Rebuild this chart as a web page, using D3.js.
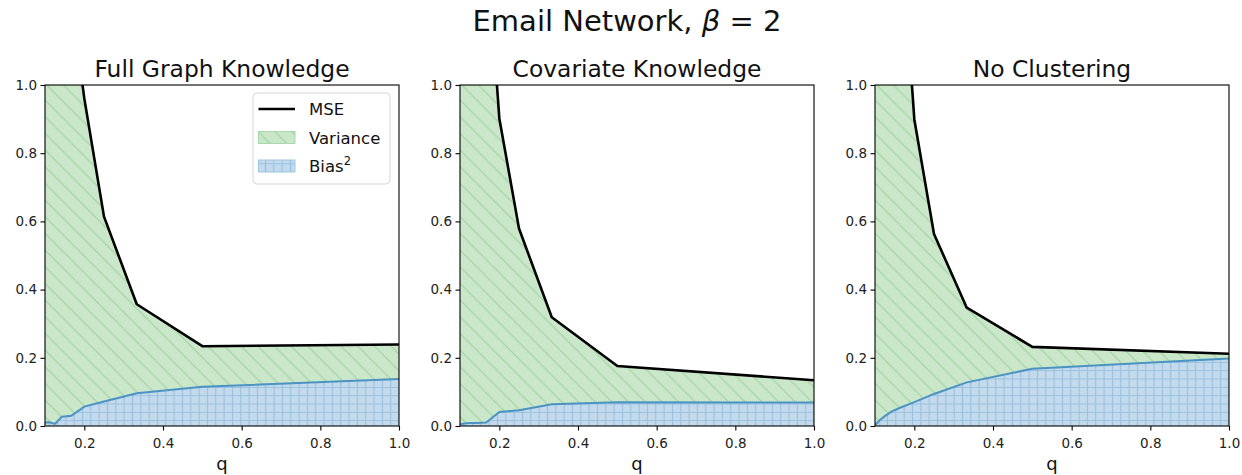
<!DOCTYPE html>
<html>
<head>
<meta charset="utf-8">
<script src="https://cdn.jsdelivr.net/npm/d3@7"></script>
<style>
  html, body { margin: 0; padding: 0; background: #fff; }
  svg { display: block; font-family: "DejaVu Sans", sans-serif; }
</style>
</head>
<body>
<svg id="chart" width="1242" height="475"></svg>
<script>
// Sampling rates q = 1/k, k = 10 .. 1
const qValues = [0.1, 0.1111, 0.125, 0.1429, 0.1667, 0.2, 0.25, 0.3333, 0.5, 1.0];

// Full Graph Knowledge
const mseFull  = [2.9, 2.5, 2.1, 1.7, 1.25, 0.96, 0.614, 0.357, 0.234, 0.239];
const biasFull = [0.010, 0.011, 0.006, 0.027, 0.030, 0.057, 0.072, 0.096, 0.115, 0.138];

// Covariate Knowledge
const mseCov  = [3.0, 2.6, 2.2, 1.8, 1.44, 0.902, 0.579, 0.319, 0.176, 0.134];
const biasCov = [0.005, 0.007, 0.009, 0.009, 0.010, 0.041, 0.046, 0.064, 0.070, 0.069];

// No Clustering
const mseNone  = [3.0, 2.6, 2.2, 1.8, 1.45, 0.899, 0.563, 0.347, 0.232, 0.212];
const biasNone = [0.002, 0.016, 0.029, 0.043, 0.055, 0.070, 0.094, 0.128, 0.168, 0.198];

const panelTitles = ["Full Graph Knowledge", "Covariate Knowledge", "No Clustering"];
const xTicks = [0.2, 0.4, 0.6, 0.8, 1.0];
const yTicks = [0.0, 0.2, 0.4, 0.6, 0.8, 1.0];
const legendLabels = ["MSE", "Variance", "Bias"];

const panels = [
  { title: panelTitles[0], mse: mseFull, bias: biasFull },
  { title: panelTitles[1], mse: mseCov,  bias: biasCov },
  { title: panelTitles[2], mse: mseNone, bias: biasNone }
];

const svg = d3.select("#chart");
const defs = svg.append("defs");

const greenFill = "rgb(202,231,202)";
const greenHatch = "rgb(160,211,160)";
const blueFill = "rgb(195,218,236)";
const blueHatch = "rgb(152,192,222)";

// Variance hatch: single backslash diagonals
const hw = 16.67;
const vp = defs.append("pattern").attr("id", "hatchVar")
  .attr("patternUnits", "userSpaceOnUse").attr("width", hw).attr("height", hw);
vp.append("rect").attr("width", hw).attr("height", hw).attr("fill", greenFill);
vp.append("path")
  .attr("d", `M-2,-2L${hw + 2},${hw + 2}M-2,${hw - 2}L2,${hw + 2}M${hw - 2},-2L${hw + 2},2`)
  .attr("stroke", greenHatch).attr("stroke-width", 1.2).attr("fill", "none");

// Bias hatch: fine grid
const gw = 8.33;
const bp = defs.append("pattern").attr("id", "hatchBias")
  .attr("patternUnits", "userSpaceOnUse").attr("width", gw).attr("height", gw);
bp.append("rect").attr("width", gw).attr("height", gw).attr("fill", blueFill);
bp.append("path")
  .attr("d", `M${gw / 2},0V${gw}M0,${gw / 2}H${gw}`)
  .attr("stroke", blueHatch).attr("stroke-width", 1.1).attr("fill", "none");

// Figure title
const sup = svg.append("text")
  .attr("x", 627).attr("y", 31)
  .attr("text-anchor", "middle")
  .attr("font-size", 29).attr("fill", "#111");
sup.append("tspan").text("Email Network, ");
sup.append("tspan").attr("font-style", "italic").text("β");
sup.append("tspan").text(" = 2");

const panelX = [45, 460, 875];
const pw = 354, plotTop = 85, plotBottom = 426;

panels.forEach((p, i) => {
  const g = svg.append("g").attr("transform", `translate(${panelX[i]},0)`);
  const x = d3.scaleLinear().domain([0.1, 1.0]).range([0, pw]);
  const y = d3.scaleLinear().domain([0, 1]).range([plotBottom, plotTop]);

  const clipId = "clip" + i;
  defs.append("clipPath").attr("id", clipId)
    .append("rect").attr("x", 0).attr("y", plotTop).attr("width", pw).attr("height", plotBottom - plotTop);

  const plot = g.append("g").attr("clip-path", `url(#${clipId})`);
  const rows = qValues.map((q, k) => ({ q, mse: p.mse[k], bias: p.bias[k] }));

  // Variance band between bias and MSE
  plot.append("path")
    .datum(rows)
    .attr("d", d3.area().x(d => x(d.q)).y0(d => y(d.bias)).y1(d => y(d.mse)))
    .attr("fill", "url(#hatchVar)");

  // Bias² band from zero
  plot.append("path")
    .datum(rows)
    .attr("d", d3.area().x(d => x(d.q)).y0(y(0)).y1(d => y(d.bias)))
    .attr("fill", "url(#hatchBias)");

  plot.append("path")
    .datum(rows)
    .attr("d", d3.line().x(d => x(d.q)).y(d => y(d.bias)))
    .attr("fill", "none").attr("stroke", "#4a93c3").attr("stroke-width", 2);

  plot.append("path")
    .datum(rows)
    .attr("d", d3.line().x(d => x(d.q)).y(d => y(d.mse)))
    .attr("fill", "none").attr("stroke", "#000").attr("stroke-width", 2.6)
    .attr("stroke-linejoin", "round");

  // Axes
  const xAxis = d3.axisBottom(x).tickValues(xTicks).tickFormat(d3.format(".1f")).tickSizeOuter(0).tickSize(4.5);
  const yAxis = d3.axisLeft(y).tickValues(yTicks).tickFormat(d3.format(".1f")).tickSizeOuter(0).tickSize(4.5);

  const gx = g.append("g").attr("transform", `translate(0,${plotBottom})`).call(xAxis);
  const gy = g.append("g").call(yAxis);
  [gx, gy].forEach(ax => {
    ax.select(".domain").remove();
    ax.selectAll("text").attr("font-size", 13.5).attr("fill", "#222")
      .attr("font-family", "DejaVu Sans, sans-serif");
    ax.selectAll("line").attr("stroke", "#000").attr("stroke-width", 1.1);
  });
  gx.selectAll("text").attr("dy", "1.05em");
  gy.selectAll("text").attr("x", -8);

  // Frame
  g.append("rect").attr("x", 0).attr("y", plotTop).attr("width", pw).attr("height", plotBottom - plotTop)
    .attr("fill", "none").attr("stroke", "#000").attr("stroke-width", 1.1);

  // Titles
  g.append("text").attr("x", pw / 2).attr("y", 77).attr("text-anchor", "middle")
    .attr("font-size", 23.4).attr("fill", "#111").text(p.title);
  g.append("text").attr("x", pw / 2).attr("y", 470).attr("text-anchor", "middle")
    .attr("font-size", 18).attr("fill", "#111").text("q");

  // Legend in the first panel
  if (i === 0) {
    const lg = g.append("g").attr("transform", "translate(208,93)");
    lg.append("rect").attr("width", 137).attr("height", 91).attr("rx", 4)
      .attr("fill", "rgba(255,255,255,0.85)").attr("stroke", "#d6d6d6").attr("stroke-width", 1);
    const rowY = [16, 44.5, 73];
    lg.append("line").attr("x1", 5.5).attr("x2", 42).attr("y1", rowY[0]).attr("y2", rowY[0])
      .attr("stroke", "#000").attr("stroke-width", 2.6);
    lg.append("rect").attr("x", 5.5).attr("y", rowY[1] - 6).attr("width", 36.5).attr("height", 12)
      .attr("fill", "url(#hatchVar)").attr("stroke", "rgb(170,216,170)").attr("stroke-width", 1);
    lg.append("rect").attr("x", 5.5).attr("y", rowY[2] - 6).attr("width", 36.5).attr("height", 12)
      .attr("fill", "url(#hatchBias)").attr("stroke", "rgb(160,198,226)").attr("stroke-width", 1);
    legendLabels.forEach((lab, k) => {
      const t = lg.append("text").attr("x", 56).attr("y", rowY[k] + 6)
        .attr("font-size", 16.5).attr("fill", "#111").text(lab);
      if (k === 2) t.append("tspan").attr("font-size", 11.5).attr("dy", -7).text("2");
    });
  }
});
</script>
</body>
</html>
